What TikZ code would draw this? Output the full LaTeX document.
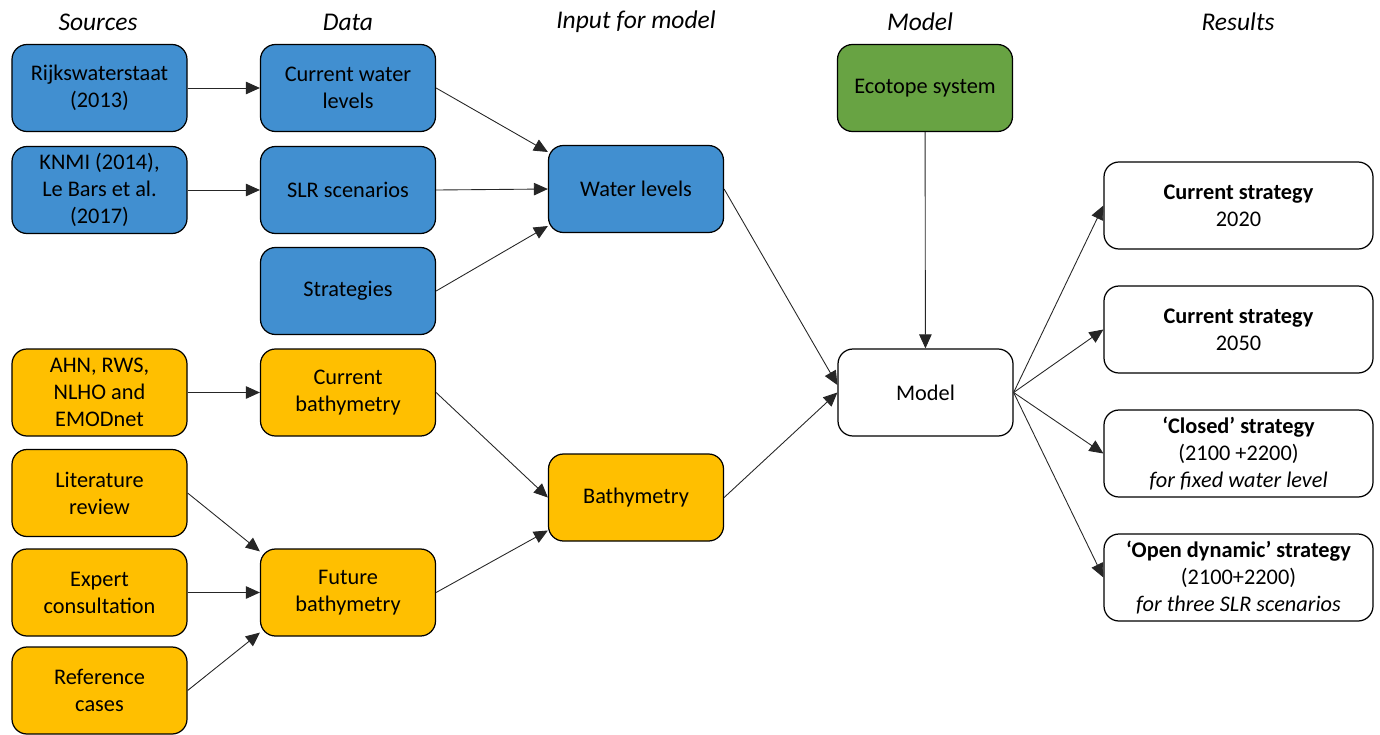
\documentclass[tikz,border=0pt]{standalone}
\usepackage{fontspec}
\setmainfont{Carlito}
\usetikzlibrary{arrows.meta}
\definecolor{azul}{HTML}{418FD0}
\definecolor{amarillo}{HTML}{FFBF00}
\definecolor{verde}{HTML}{68A343}
\begin{document}
\begin{tikzpicture}[x=0.2mm,y=-0.2mm,
		caja/.style={draw=black,line width=0.7pt,rounded corners=3mm,minimum width=35mm,
			minimum height=17.4mm,align=center,inner sep=2pt,font=\fontsize{12.7}{15.4}\selectfont},
		cajaazul/.style={caja,fill=azul},
		cajaamarilla/.style={caja,fill=amarillo},
		cajaverde/.style={caja,fill=verde},
		cajares/.style={caja,fill=white,minimum width=53.8mm},
		titulo/.style={font=\fontsize{14.5}{16}\selectfont\itshape},
		flecha/.style={-{Triangle[length=2.8mm,width=2.5mm]},line width=0.5pt,draw=black!85}]
		\useasboundingbox (0,0) rectangle (1380,734);
		%Titulos
		\node[titulo](tsrc)at (98,22) {Sources};
		\node[titulo](tdat)at (348,22) {Data};
		\node[titulo](tinp)at (636,22) {Input for model};
		\node[titulo](tmod)at (920,22) {Model};
		\node[titulo](tres)at (1238,22) {Results};
		
		%Fuentes
		\node[cajaazul](rws)at (99.5,88) {Rijkswaterstaat\\(2013)};
		\node[cajaazul](knmi)at (99.5,190) {KNMI (2014),\\Le Bars et al.\\(2017)};
		\node[cajaamarilla](ahn)at (99.5,392.5) {AHN, RWS,\\NLHO and\\EMODnet};
		\node[cajaamarilla](lit)at (99.5,493) {Literature\\review};
		\node[cajaamarilla](exp)at (99.5,592.5) {Expert\\consultation};
		\node[cajaamarilla](ref)at (99.5,690.5) {Reference\\cases};
		
		%Datos
		\node[cajaazul](cwl)at (348,88) {Current water\\levels};
		\node[cajaazul](slr)at (348,190) {SLR scenarios};
		\node[cajaazul](strat)at (348,291) {Strategies};
		\node[cajaamarilla](cbat)at (348,392.5) {Current\\bathymetry};
		\node[cajaamarilla](fbat)at (348,592.5) {Future\\bathymetry};
		
		%Entrada del modelo
		\node[cajaazul](wl)at (636,189) {Water levels};
		\node[cajaamarilla](bat)at (636,497.5) {Bathymetry};
		
		%Modelo
		\node[cajaverde](eco)at (925,88) {Ecotope system};
		\node[caja](model)at (925.5,392.5) {Model};
		
		%Resultados
		\node[cajares](r1)at (1238.5,205.5) {\textbf{Current strategy}\\2020};
		\node[cajares](r2)at (1238.5,329.5) {\textbf{Current strategy}\\2050};
		\node[cajares](r3)at (1238.5,453.5) {\textbf{‘Closed’ strategy}\\(2100 +2200)\\\textit{for fixed water level}};
		\node[cajares](r4)at (1238.5,577.5) {\textbf{‘Open dynamic’ strategy}\\(2100+2200)\\\textit{for three SLR scenarios}};
		
		%Flechas
		\draw[flecha] (rws) -- (cwl);
		\draw[flecha] (knmi) -- (slr);
		\draw[flecha] (ahn) -- (cbat);
		\draw[flecha] (cwl.east) -- ([yshift=7.4mm]wl.west);
		\draw[flecha] (slr.east) -- (wl.west);
		\draw[flecha] (strat.east) -- ([yshift=-7.4mm]wl.west);
		\draw[flecha] (lit.east) -- ([yshift=-0.6mm]fbat.north west);
		\draw[flecha] (exp.east) -- (fbat.west);
		\draw[flecha] (ref.east) -- ([yshift=0.8mm]fbat.south west);
		\draw[flecha] (cbat.east) -- (bat.west);
		\draw[flecha] (fbat.east) -- ([yshift=-6.6mm]bat.west);
		\draw[flecha] (wl.east) -- ([yshift=1.5mm]model.west);
		\draw[flecha] (bat.east) -- (model.west);
		\draw[flecha] (eco) -- (model);
		\foreach \r in {r1,r2,r3,r4}
		\draw[flecha] (model.east) -- (\r.west);
		
	\end{tikzpicture}
\end{document}
